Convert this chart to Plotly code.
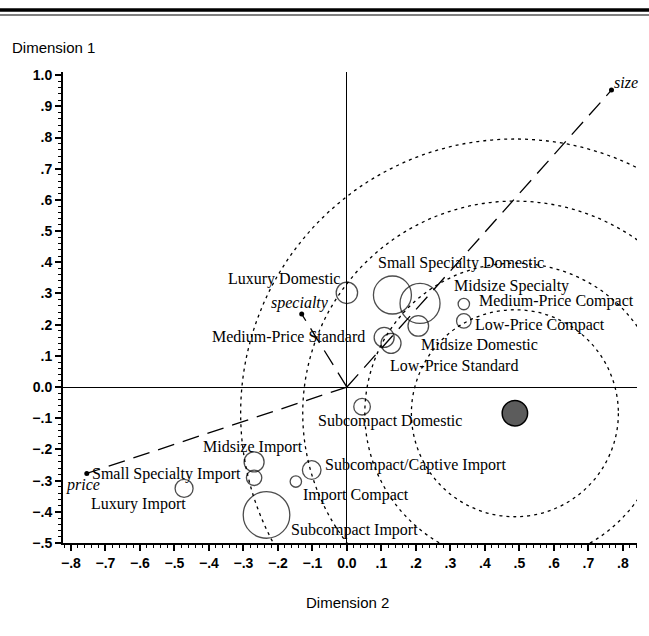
import plotly.graph_objects as go

# Car market segments: joint-space coordinates and relative bubble size
segments = [
    "Luxury Domestic", "Small Specialty Domestic", "Midsize Specialty", "Midsize Domestic",
    "Medium-Price Standard", "Low-Price Standard", "Medium-Price Compact", "Low-Price Compact",
    "Subcompact Domestic", "Midsize Import", "Small Specialty Import", "Subcompact/Captive Import",
    "Import Compact", "Subcompact Import", "Luxury Import",
]
dim2 = [0.000, 0.132, 0.212, 0.207, 0.108, 0.128, 0.339, 0.339,
        0.044, -0.269, -0.269, -0.102, -0.148, -0.233, -0.472]
dim1 = [0.302, 0.295, 0.268, 0.196, 0.159, 0.140, 0.266, 0.212,
        -0.063, -0.240, -0.291, -0.266, -0.303, -0.410, -0.325]
seg_size = [10.7, 19.0, 20.0, 10.3, 10.0, 10.0, 5.7, 7.3,
            8.3, 10.0, 7.7, 9.3, 5.7, 23.3, 9.0]

# Attribute vectors (drawn from the origin)
attr_names = ["size", "price", "specialty"]
attr_dim2 = [0.767, -0.754, -0.131]
attr_dim1 = [0.952, -0.277, 0.234]

# Ideal point and its iso-preference contours (radii in Dimension 2 units)
ideal_dim2 = 0.487
ideal_dim1 = -0.084
ideal_size = 12.7
contour_radii = [0.30, 0.435, 0.615, 0.795]

x_ticks = [-0.8, -0.7, -0.6, -0.5, -0.4, -0.3, -0.2, -0.1, 0.0, 0.1, 0.2, 0.3, 0.4, 0.5, 0.6, 0.7, 0.8]
x_ticktext = ["\u2212.8", "\u2212.7", "\u2212.6", "\u2212.5", "\u2212.4", "\u2212.3", "\u2212.2", "\u2212.1",
              "0.0", ".1", ".2", ".3", ".4", ".5", ".6", ".7", ".8"]
y_ticks = [1.0, 0.9, 0.8, 0.7, 0.6, 0.5, 0.4, 0.3, 0.2, 0.1, 0.0, -0.1, -0.2, -0.3, -0.4, -0.5]
y_ticktext = ["1.0", ".9", ".8", ".7", ".6", ".5", ".4", ".3", ".2", ".1", "0.0",
              "\u2212.1", "\u2212.2", "\u2212.3", "\u2212.4", "\u2212.5"]

# ---- layout geometry ----
W, H = 649, 636
ML, MR, MT, MB = 63, 12, 72, 93
PW, PH = W - ML - MR, H - MT - MB
x_range = [-0.823, 0.841]
y_range = [-0.5, 1.01]
px_x = PW / (x_range[1] - x_range[0])
px_y = PH / (y_range[1] - y_range[0])


def paper_y(py):
    return (H - MB - py) / PH


def paper_x(px):
    return (px - ML) / PW


# label placement: (xanchor, xshift px, yshift px) relative to each bubble
label_pos = [
    ("right", -5, 14), ("left", -16, 32), ("left", 32, 17), ("left", 1, -19),
    ("right", -17, 1), ("left", -3, -22), ("left", 13, 3), ("left", 9, -4),
    ("left", -46, -14), ("left", -53, 15), ("right", -11, 4), ("left", 11, 5),
    ("left", 5, -13), ("left", 22, -15), ("right", 4, -16),
]
attr_label_pos = [("left", 1, 8), ("center", -4, -12), ("center", -2, 11)]

serif = "Liberation Serif, Times New Roman, serif"
sans = "Liberation Sans, Arial, sans-serif"

fig = go.Figure()

# iso-preference circles around the ideal point
shapes = []
for r in contour_radii:
    ry = r * px_x / px_y
    shapes.append(dict(
        type="circle", xref="x", yref="y",
        x0=ideal_dim2 - r, x1=ideal_dim2 + r,
        y0=ideal_dim1 - ry, y1=ideal_dim1 + ry,
        line=dict(color="black", width=1.3, dash="3px,4px"),
        layer="below",
    ))

# double rule across the top of the page
shapes.append(dict(type="line", xref="paper", yref="paper",
                   x0=paper_x(0), x1=paper_x(W), y0=paper_y(10), y1=paper_y(10),
                   line=dict(color="black", width=3.5)))
shapes.append(dict(type="line", xref="paper", yref="paper",
                   x0=paper_x(0), x1=paper_x(W), y0=paper_y(15), y1=paper_y(15),
                   line=dict(color="black", width=1.2)))

# attribute vectors
for ax, ay in zip(attr_dim2, attr_dim1):
    fig.add_trace(go.Scatter(
        x=[0, ax], y=[0, ay], mode="lines",
        line=dict(color="black", width=1.3, dash="17px,9px"),
        hoverinfo="skip", showlegend=False,
    ))
fig.add_trace(go.Scatter(
    x=attr_dim2, y=attr_dim1, mode="markers",
    marker=dict(color="black", size=5), showlegend=False, hoverinfo="skip",
))

# segment bubbles
fig.add_trace(go.Scatter(
    x=dim2, y=dim1, mode="markers",
    marker=dict(symbol="circle-open", size=[2 * s for s in seg_size],
                color="black", line=dict(color="black", width=1.3)),
    text=segments, hoverinfo="text", showlegend=False, cliponaxis=False,
))

# ideal point
fig.add_trace(go.Scatter(
    x=[ideal_dim2], y=[ideal_dim1], mode="markers",
    marker=dict(symbol="circle", size=2 * ideal_size, color="#5c5c5c",
                line=dict(color="black", width=1.5)),
    showlegend=False, hoverinfo="skip",
))

annotations = []
for name, x, y, (anc, dx, dy) in zip(segments, dim2, dim1, label_pos):
    annotations.append(dict(
        x=x, y=y, xref="x", yref="y", text=name, showarrow=False,
        xanchor=anc, yanchor="middle", xshift=dx, yshift=dy,
        font=dict(family=serif, size=16, color="black"),
    ))
for name, x, y, (anc, dx, dy) in zip(attr_names, attr_dim2, attr_dim1, attr_label_pos):
    annotations.append(dict(
        x=x, y=y, xref="x", yref="y", text="<i>" + name + "</i>", showarrow=False,
        xanchor=anc, yanchor="middle", xshift=dx, yshift=dy,
        font=dict(family=serif, size=16, color="black"),
    ))

annotations.append(dict(
    x=paper_x(10), y=paper_y(47), xref="paper", yref="paper", text="Dimension 1",
    showarrow=False, xanchor="left", yanchor="middle",
    font=dict(family=sans, size=15, color="black"),
))
annotations.append(dict(
    x=paper_x(347), y=paper_y(602), xref="paper", yref="paper", text="Dimension 2",
    showarrow=False, xanchor="center", yanchor="middle",
    font=dict(family=sans, size=15, color="black"),
))

axis_common = dict(
    showgrid=False, showline=True, linecolor="black", linewidth=2,
    ticks="outside", ticklen=6, tickwidth=1.5, tickcolor="black",
    zeroline=True, zerolinecolor="black", zerolinewidth=1.3,
    tickfont=dict(family=sans, size=14, color="black", weight="bold"),
    minor=dict(ticks="outside", ticklen=3, tickwidth=1, tickcolor="black",
               dtick=0.02, tick0=0, showgrid=False),
    fixedrange=True,
)

fig.update_layout(
    width=W, height=H, autosize=False,
    margin=dict(l=ML, r=MR, t=MT, b=MB, pad=0),
    paper_bgcolor="white", plot_bgcolor="white",
    xaxis=dict(range=x_range, tickmode="array", tickvals=x_ticks, ticktext=x_ticktext, **axis_common),
    yaxis=dict(range=y_range, tickmode="array", tickvals=y_ticks, ticktext=y_ticktext, **axis_common),
    shapes=shapes, annotations=annotations,
    showlegend=False,
)

fig.write_html("out.html")
